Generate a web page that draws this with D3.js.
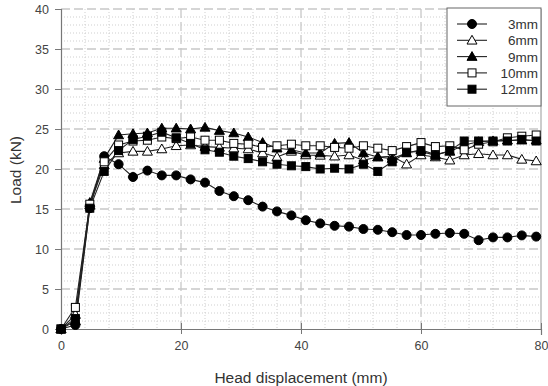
<!DOCTYPE html>
<html><head><meta charset="utf-8">
<script src="https://cdn.jsdelivr.net/npm/d3@7/dist/d3.min.js"></script>
<style>html,body{margin:0;padding:0;background:#fff;}svg{display:block;}</style>
</head><body><svg id="c" width="548" height="386"></svg>
<script>
const disp = [0,2.4,4.8,7.2,9.6,12,14.4,16.8,19.2,21.6,24,26.4,28.8,31.2,33.6,36,38.4,40.8,43.2,45.6,48,50.4,52.8,55.2,57.6,60,62.4,64.8,67.2,69.6,72,74.4,76.8,79.2];
const load3mm = [0,0.5,15.1,21.6,20.6,19.0,19.8,19.2,19.2,18.7,18.3,17.25,16.6,16.1,15.3,14.7,14.2,13.6,13.2,12.9,12.8,12.5,12.4,12.1,11.75,11.75,11.9,12.0,11.9,11.1,11.45,11.45,11.7,11.55];
const load6mm = [0,1.8,15.5,20.5,22.0,22.2,22.2,22.5,22.9,23.0,22.8,22.7,22.6,22.5,22.0,21.5,22.2,21.75,21.7,21.6,21.75,21.1,21.5,21.6,20.6,21.75,21.5,21.1,21.75,21.9,21.75,21.75,21.2,21.0];
const load9mm = [0,1.0,15.8,21.3,24.25,24.4,24.5,25.1,25.1,25.0,25.2,24.8,24.5,24.0,23.3,22.6,22.4,22.0,22.0,23.2,23.3,22.0,21.5,21.3,22.0,22.4,21.8,22.2,23.0,23.4,23.5,23.6,23.6,23.6];
const load10mm = [0,2.7,15.6,20.9,23.0,23.5,23.6,24.0,23.8,24.0,23.6,23.6,23.2,23.1,22.7,22.9,23.1,22.9,22.9,22.7,22.6,22.9,22.6,22.3,22.8,23.3,22.8,22.9,22.4,23.1,23.4,23.9,24.1,24.25];
const load12mm = [0,1.3,15.1,19.7,22.3,23.7,24.1,24.6,23.9,23.2,22.4,22.1,21.6,21.3,20.9,20.6,20.4,20.3,20.0,20.1,20.0,20.6,19.7,20.9,22.1,22.2,21.7,22.3,23.5,23.5,23.5,23.5,23.7,23.5];
const seriesNames = ["3mm","6mm","9mm","10mm","12mm"];
const xTicks = [0,20,40,60,80];
const yTicks = [0,5,10,15,20,25,30,35,40];

const series = [
  {name:"3mm", vals:load3mm, shape:"circle", fill:"#000"},
  {name:"6mm", vals:load6mm, shape:"triangle", fill:"#fff"},
  {name:"9mm", vals:load9mm, shape:"triangle", fill:"#000"},
  {name:"10mm", vals:load10mm, shape:"square", fill:"#fff"},
  {name:"12mm", vals:load12mm, shape:"square", fill:"#000"}
];

const svg = d3.select("#c");
const L=61, R=541, T=9, B=329;
const x = d3.scaleLinear().domain([0,80]).range([L,R]);
const y = d3.scaleLinear().domain([0,40]).range([B,T]);
const font = "Liberation Sans, Arial, sans-serif";

// minor grid
const g = svg.append("g");
g.selectAll(".vmin").data(d3.range(4,80,4).filter(v=>v%20!==0)).enter().append("line")
  .attr("x1",d=>x(d)).attr("x2",d=>x(d)).attr("y1",T).attr("y2",B)
  .attr("stroke","#cfcfcf").attr("stroke-width",1).attr("stroke-dasharray","1,2");
g.selectAll(".hmin").data(d3.range(1,40,1).filter(v=>v%5!==0)).enter().append("line")
  .attr("x1",L).attr("x2",R).attr("y1",d=>y(d)).attr("y2",d=>y(d))
  .attr("stroke","#cfcfcf").attr("stroke-width",1).attr("stroke-dasharray","1,2");
// major grid
g.selectAll(".vmaj").data([20,40,60]).enter().append("line")
  .attr("x1",d=>x(d)).attr("x2",d=>x(d)).attr("y1",T).attr("y2",B)
  .attr("stroke","#c8c8c8").attr("stroke-width",1.3).attr("stroke-dasharray","9,4");
g.selectAll(".hmaj").data([5,10,15,20,25,30,35,40]).enter().append("line")
  .attr("x1",L).attr("x2",R).attr("y1",d=>y(d)).attr("y2",d=>y(d))
  .attr("stroke","#c8c8c8").attr("stroke-width",1.3).attr("stroke-dasharray","9,4");
// right border
svg.append("line").attr("x1",R).attr("x2",R).attr("y1",T).attr("y2",B).attr("stroke","#999");

// axes
const xAxis = d3.axisBottom(x).tickValues(xTicks).tickSize(6).tickPadding(6);
const yAxis = d3.axisLeft(y).tickValues(yTicks).tickSize(6).tickPadding(6);
const gx = svg.append("g").attr("transform",`translate(0,${B})`).call(xAxis);
const gy = svg.append("g").attr("transform",`translate(${L},0)`).call(yAxis);
[gx,gy].forEach(a=>{
  a.select(".domain").attr("stroke","#777").attr("stroke-width",1.2);
  a.selectAll(".tick line").attr("stroke","#777");
  a.selectAll("text").attr("font-family",font).attr("font-size",12.5).attr("fill","#444");
});
gx.selectAll(".tick line").attr("y1",-6).attr("y2",5);

// lines
const lineGen = d3.line().x((d,i)=>x(disp[i])).y(d=>y(d));
series.forEach(s=>{
  svg.append("path").datum(s.vals).attr("d",lineGen)
    .attr("fill","none").attr("stroke","#222").attr("stroke-width",1.1);
});
function marker(sel, shape, fill, cx, cy){
  if(shape==="circle"){
    sel.append("circle").attr("cx",cx).attr("cy",cy).attr("r",4.5).attr("fill",fill).attr("stroke","#000").attr("stroke-width",1);
  } else if(shape==="square"){
    sel.append("rect").attr("x",cx-4).attr("y",cy-4).attr("width",8).attr("height",8).attr("fill",fill).attr("stroke","#000").attr("stroke-width",1);
  } else {
    const r=5;
    sel.append("path").attr("d",`M${cx},${cy-r}L${cx+r},${cy+r*0.75}L${cx-r},${cy+r*0.75}Z`).attr("fill",fill).attr("stroke","#000").attr("stroke-width",1);
  }
}
series.forEach(s=>{
  const gm = svg.append("g");
  s.vals.forEach((v,i)=>marker(gm, s.shape, s.fill, x(disp[i]), y(v)));
});

// legend
const lg = svg.append("g");
lg.append("rect").attr("x",447).attr("y",8).attr("width",94).attr("height",98).attr("fill","#fff").attr("stroke","#666").attr("stroke-width",1);
series.forEach((s,i)=>{
  const yy = 24 + i*16.3;
  lg.append("line").attr("x1",457).attr("x2",487).attr("y1",yy).attr("y2",yy).attr("stroke","#222").attr("stroke-width",1.1);
  marker(lg, s.shape, s.fill, 472, yy);
  lg.append("text").attr("x",538).attr("y",yy+5).attr("text-anchor","end")
    .attr("font-family",font).attr("font-size",13.5).attr("fill","#333").text(seriesNames[i]);
});

// axis titles
svg.append("text").attr("x",301).attr("y",383).attr("text-anchor","middle")
  .attr("font-family",font).attr("font-size",15.5).attr("fill","#333").text("Head displacement (mm)");
svg.append("text").attr("transform","translate(21,170) rotate(-90)").attr("text-anchor","middle")
  .attr("font-family",font).attr("font-size",15.5).attr("fill","#333").text("Load (kN)");
</script></body></html>
